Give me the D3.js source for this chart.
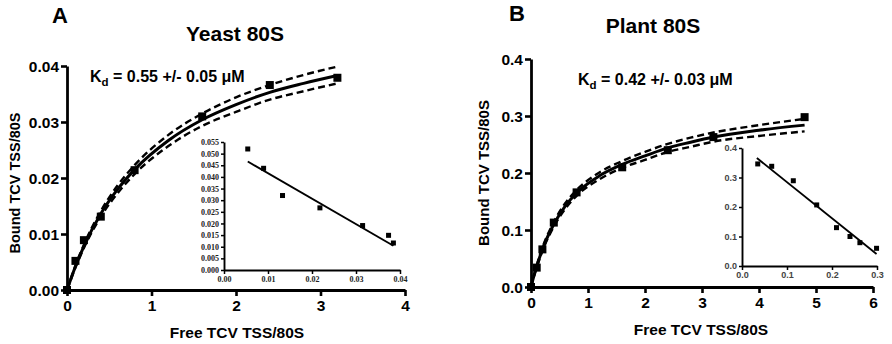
<!DOCTYPE html>
<html><head><meta charset="utf-8">
<script src="https://cdn.jsdelivr.net/npm/d3@7"></script>
<style>
body{margin:0;background:#fff;}
svg{display:block;font-family:"Liberation Sans",Arial,sans-serif;}
</style></head>
<body><svg id="c" width="892" height="344"></svg>
<script>
// ---------- Data ----------
const yeastFree  = [0, 0.1, 0.2, 0.4, 0.8, 1.6, 2.4, 3.2];
const yeastBound = [0, 0.0052, 0.0089, 0.0131, 0.0214, 0.0310, 0.0366, 0.0379];
const yeastCurveX = [0, 0.1, 0.2, 0.4, 0.6, 0.8, 1.2, 1.6, 2.0, 2.4, 2.8, 3.2];
const yeastCurveY = [0, 0.0042, 0.0078, 0.0136, 0.0180, 0.0215, 0.0267, 0.0304, 0.0331, 0.0353, 0.0369, 0.0383];
const yeastUpper  = [0, 0.0044, 0.0081, 0.0141, 0.0187, 0.0223, 0.0277, 0.0315, 0.0344, 0.0366, 0.0384, 0.0399];
const yeastLower  = [0, 0.0040, 0.0075, 0.0131, 0.0173, 0.0207, 0.0257, 0.0293, 0.0318, 0.0340, 0.0355, 0.0369];
const yeastScatX = [0.0054, 0.0090, 0.0133, 0.0218, 0.0315, 0.0374, 0.0385];
const yeastScatY = [0.0520, 0.0437, 0.0320, 0.0267, 0.0191, 0.0149, 0.0116];
const yeastLineX = [0.0054, 0.0385];
const yeastLineY = [0.0466, 0.0104];

const plantFree  = [0, 0.1, 0.2, 0.4, 0.8, 1.6, 2.4, 3.2, 4.8];
const plantBound = [0, 0.034, 0.066, 0.113, 0.166, 0.210, 0.240, 0.263, 0.298];
const plantCurveX = [0, 0.05, 0.1, 0.2, 0.4, 0.6, 0.8, 1.2, 1.6, 2.0, 2.4, 2.8, 3.2, 4.0, 4.8];
const plantCurveY = [0, 0.019, 0.036, 0.066, 0.110, 0.142, 0.165, 0.195, 0.215, 0.230, 0.244, 0.254, 0.263, 0.275, 0.284];
const plantUpper  = [0, 0.020, 0.038, 0.069, 0.114, 0.147, 0.170, 0.201, 0.221, 0.237, 0.251, 0.262, 0.271, 0.284, 0.295];
const plantLower  = [0, 0.018, 0.034, 0.063, 0.106, 0.137, 0.160, 0.189, 0.209, 0.223, 0.237, 0.246, 0.255, 0.265, 0.273];
const plantScatX = [0.035, 0.066, 0.114, 0.166, 0.210, 0.240, 0.262, 0.299];
const plantScatY = [0.346, 0.338, 0.289, 0.207, 0.130, 0.100, 0.079, 0.060];
const plantLineX = [0.033, 0.299];
const plantLineY = [0.366, 0.041];

const yeastXTicks = [0, 1, 2, 3, 4];
const yeastYTicks = [0, 0.01, 0.02, 0.03, 0.04];
const yeastInsetXTicks = [0, 0.01, 0.02, 0.03, 0.04];
const yeastInsetYTicks = [0, 0.005, 0.01, 0.015, 0.02, 0.025, 0.03, 0.035, 0.04, 0.045, 0.05, 0.055];
const plantXTicks = [0, 1, 2, 3, 4, 5, 6];
const plantYTicks = [0, 0.1, 0.2, 0.3, 0.4];
const plantInsetXTicks = [0, 0.1, 0.2, 0.3];
const plantInsetYTicks = [0, 0.1, 0.2, 0.3, 0.4];

const svg = d3.select("#c");
const zip = (a, b) => a.map((v, i) => [v, b[i]]);

function mainPanel(o) {
  const x = d3.scaleLinear().domain(o.xd).range(o.xr);
  const y = d3.scaleLinear().domain(o.yd).range(o.yr);
  const g = svg.append("g");
  const xa = g.append("g").attr("transform", `translate(0,${o.yr[0]})`)
    .call(d3.axisBottom(x).tickValues(o.xt).tickFormat(d3.format("d")).tickSize(6).tickSizeOuter(0));
  const ya = g.append("g").attr("transform", `translate(${o.xr[0]},0)`)
    .call(d3.axisLeft(y).tickValues(o.yt).tickFormat(d3.format(o.yf)).tickSize(6).tickSizeOuter(0));
  [xa, ya].forEach(a => {
    a.select(".domain").attr("stroke", "#000").attr("stroke-width", 2.8);
    a.selectAll(".tick line").attr("stroke", "#000").attr("stroke-width", 2.6);
    a.selectAll(".tick text").attr("fill", "#000").attr("font-size", 15.5).attr("font-weight", "bold")
      .attr("font-family", "Liberation Sans, Arial, sans-serif");
  });
  xa.selectAll(".tick text").attr("dy", "0.95em").attr("y", 6);
  ya.selectAll(".tick text").attr("x", -8).attr("dy", "0.38em");

  const line = d3.line().x(d => x(d[0])).y(d => y(d[1])).curve(d3.curveMonotoneX);
  g.append("path").attr("d", line(zip(o.cx, o.up))).attr("fill", "none")
    .attr("stroke", "#000").attr("stroke-width", 2.4).attr("stroke-dasharray", "7,4");
  g.append("path").attr("d", line(zip(o.cx, o.lo))).attr("fill", "none")
    .attr("stroke", "#000").attr("stroke-width", 2.4).attr("stroke-dasharray", "7,4");
  g.append("path").attr("d", line(zip(o.cx, o.cy))).attr("fill", "none")
    .attr("stroke", "#000").attr("stroke-width", 3);
  const s = 8;
  g.selectAll("rect.pt").data(zip(o.px, o.py)).enter().append("rect").attr("class", "pt")
    .attr("x", d => x(d[0]) - s / 2).attr("y", d => y(d[1]) - s / 2)
    .attr("width", s).attr("height", s).attr("fill", "#000");

  // titles
  g.append("text").attr("x", o.xtitle[0]).attr("y", o.xtitle[1]).attr("text-anchor", "middle")
    .attr("font-size", 15.5).attr("font-weight", "bold").text("Free TCV TSS/80S");
  g.append("text").attr("transform", `translate(${o.ytitle[0]},${o.ytitle[1]}) rotate(-90)`)
    .attr("text-anchor", "middle").attr("font-size", o.ytfs).attr("font-weight", "bold").text("Bound TCV TSS/80S");
  g.append("text").attr("x", o.title[0]).attr("y", o.title[1]).attr("text-anchor", "middle")
    .attr("font-size", 21).attr("font-weight", "bold").text(o.titleText);
  g.append("text").attr("x", o.letter[0]).attr("y", o.letter[1])
    .attr("font-size", 22).attr("font-weight", "bold").text(o.letterText);
  const kd = g.append("text").attr("x", o.kd[0]).attr("y", o.kd[1])
    .attr("font-size", 16).attr("font-weight", "bold");
  kd.append("tspan").text("K");
  kd.append("tspan").attr("font-size", 11.5).attr("dy", 4).text("d");
  kd.append("tspan").attr("dy", -4).text(" = " + o.kdText + " \u03bcM");
}

function inset(o) {
  const x = d3.scaleLinear().domain(o.xd).range(o.xr);
  const y = d3.scaleLinear().domain(o.yd).range(o.yr);
  const g = svg.append("g");
  const xa = g.append("g").attr("transform", `translate(0,${o.yr[0]})`)
    .call(d3.axisBottom(x).tickValues(o.xt).tickFormat(d3.format(o.xf)).tickSize(4).tickSizeOuter(0));
  const ya = g.append("g").attr("transform", `translate(${o.xr[0]},0)`)
    .call(d3.axisLeft(y).tickValues(o.yt).tickFormat(d3.format(o.yf)).tickSize(3).tickSizeOuter(0));
  [xa, ya].forEach(a => {
    a.select(".domain").attr("stroke", "#000").attr("stroke-width", 1.9);
    a.selectAll(".tick line").attr("stroke", "#000").attr("stroke-width", 1.5);
    a.selectAll(".tick text").attr("fill", o.tc).attr("font-size", o.fs).attr("font-weight", "bold")
      .attr("font-family", o.ff);
  });
  xa.selectAll(".tick text").attr("y", 6);
  ya.selectAll(".tick text").attr("x", -5);
  const line = d3.line().x(d => x(d[0])).y(d => y(d[1]));
  g.append("path").attr("d", line(zip(o.lx, o.ly))).attr("fill", "none")
    .attr("stroke", "#000").attr("stroke-width", 1.9);
  const s = 5;
  g.selectAll("rect.pt").data(zip(o.px, o.py)).enter().append("rect").attr("class", "pt")
    .attr("x", d => x(d[0]) - s / 2).attr("y", d => y(d[1]) - s / 2)
    .attr("width", s).attr("height", s).attr("fill", "#000");
}

mainPanel({
  xd: [0, 4], xr: [67, 405], yd: [0, 0.04], yr: [290, 66],
  xt: yeastXTicks, yt: yeastYTicks, yf: ".2f",
  px: yeastFree, py: yeastBound, cx: yeastCurveX, cy: yeastCurveY, up: yeastUpper, lo: yeastLower,
  xtitle: [237, 338], ytitle: [20, 183], ytfs: 14.5, title: [235, 41], titleText: "Yeast 80S",
  letter: [52, 23], letterText: "A", kd: [90, 82], kdText: "0.55 +/- 0.05"
});
inset({
  xd: [0, 0.04], xr: [224, 400], yd: [0, 0.055], yr: [270, 142],
  xt: yeastInsetXTicks, yt: yeastInsetYTicks, xf: ".2f", yf: ".3f",
  px: yeastScatX, py: yeastScatY, lx: yeastLineX, ly: yeastLineY,
  fs: 8, tc: "#222", ff: "Liberation Serif, Times, serif"
});
mainPanel({
  xd: [0, 6], xr: [531, 873], yd: [0, 0.4], yr: [287, 59],
  xt: plantXTicks, yt: plantYTicks, yf: ".1f",
  px: plantFree, py: plantBound, cx: plantCurveX, cy: plantCurveY, up: plantUpper, lo: plantLower,
  xtitle: [701, 335], ytitle: [489, 173], ytfs: 15, title: [653, 33], titleText: "Plant 80S",
  letter: [509, 21], letterText: "B", kd: [578, 85], kdText: "0.42 +/- 0.03"
});
inset({
  xd: [0, 0.3], xr: [742, 877], yd: [0, 0.4], yr: [266, 148],
  xt: plantInsetXTicks, yt: plantInsetYTicks, xf: ".1f", yf: ".1f",
  px: plantScatX, py: plantScatY, lx: plantLineX, ly: plantLineY,
  fs: 9, tc: "#444", ff: "Liberation Sans, Arial, sans-serif"
});
</script></body></html>
